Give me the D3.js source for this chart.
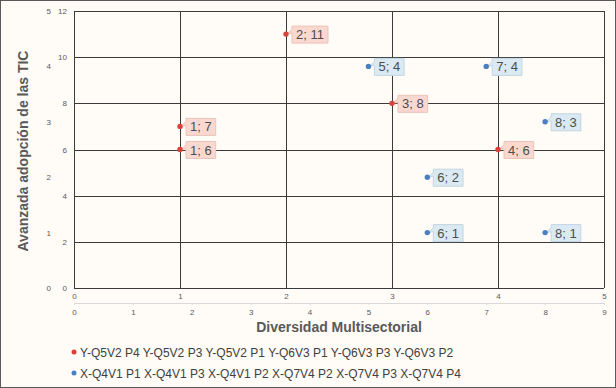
<!DOCTYPE html>
<html>
<head>
<meta charset="utf-8">
<script src="https://cdn.jsdelivr.net/npm/d3@7"></script>
<style>
  body { margin: 0; background: #fffbf7; }
  svg { display: block; font-family: 'Liberation Sans', Arial, sans-serif; }
</style>
</head>
<body>
<svg id="chart" width="616" height="388"></svg>
<script>
// series on primary axes (x 0-5, y 0-12)
const redX = [1, 1, 2, 3, 4]
const redY = [7, 6, 11, 8, 6]
// series on secondary axes (x 0-9, y 0-5)
const blueX = [5, 7, 8, 6, 6, 8]
const blueY = [4, 4, 3, 2, 1, 1]

const redName = 'Y-Q5V2 P4 Y-Q5V2 P3 Y-Q5V2 P1 Y-Q6V3 P1 Y-Q6V3 P3 Y-Q6V3 P2'
const blueName = 'X-Q4V1 P1 X-Q4V1 P3 X-Q4V1 P2 X-Q7V4 P2 X-Q7V4 P3 X-Q7V4 P4'
const xTitle = 'Diversidad Multisectorial'
const yTitle = 'Avanzada adopción de las TIC'

const svg = d3.select('#chart')
const W = 616, H = 388
const plot = { left: 74, right: 604, top: 11, bottom: 288 }

svg.append('rect')
    .attr('x', 0.5).attr('y', 0.5)
    .attr('width', W - 1).attr('height', H - 1)
    .attr('fill', '#fffbf7')
    .attr('stroke', '#595959')

const x1 = d3.scaleLinear().domain([0, 5]).range([plot.left, plot.right])
const y1 = d3.scaleLinear().domain([0, 12]).range([plot.bottom, plot.top])
const x2 = d3.scaleLinear().domain([0, 9]).range([plot.left, plot.right])
const y2 = d3.scaleLinear().domain([0, 5]).range([plot.bottom, plot.top])

// gridlines
const grid = svg.append('g').attr('stroke', '#3a3a3a').attr('stroke-width', 1)
grid.selectAll('.gv').data(d3.range(0, 6)).join('line')
    .attr('x1', d => Math.round(x1(d)) + 0.5).attr('x2', d => Math.round(x1(d)) + 0.5)
    .attr('y1', plot.top).attr('y2', plot.bottom)
grid.selectAll('.gh').data(d3.range(0, 13, 2)).join('line')
    .attr('y1', d => Math.round(y1(d)) + 0.5).attr('y2', d => Math.round(y1(d)) + 0.5)
    .attr('x1', plot.left).attr('x2', plot.right)

function styleAxis (g, size) {
    g.select('.domain').remove()
    g.selectAll('text').attr('fill', '#595959').attr('font-size', size)
        .attr('font-family', 'Liberation Sans, Arial, sans-serif')
}

// primary left
svg.append('g').attr('transform', `translate(${plot.left},0)`)
    .call(d3.axisLeft(y1).tickValues(d3.range(0, 13, 2)).tickSize(0).tickPadding(7))
    .call(g => styleAxis(g, 8))
// secondary left
svg.append('g').attr('transform', `translate(${plot.left},0)`)
    .call(d3.axisLeft(y2).ticks(5).tickSize(0).tickPadding(23))
    .call(g => styleAxis(g, 8))
// primary bottom
svg.append('g').attr('transform', `translate(0,${plot.bottom})`)
    .call(d3.axisBottom(x1).ticks(5).tickSize(0).tickPadding(5))
    .call(g => styleAxis(g, 8))
// secondary bottom
const ax2 = svg.append('g').attr('transform', 'translate(0,303)')
    .call(d3.axisBottom(x2).ticks(9).tickSize(2).tickPadding(4))
ax2.select('.domain').attr('stroke', '#d9d9d9')
ax2.selectAll('.tick line').attr('stroke', '#d9d9d9')
ax2.selectAll('text').attr('fill', '#595959').attr('font-size', 8)

// axis titles
svg.append('text')
    .attr('x', 339).attr('y', 332)
    .attr('text-anchor', 'middle')
    .attr('font-size', 14).attr('font-weight', 'bold').attr('fill', '#595959')
    .text(xTitle)
svg.append('text')
    .attr('transform', 'translate(28,151) rotate(-90)')
    .attr('text-anchor', 'middle')
    .attr('font-size', 14).attr('font-weight', 'bold').attr('fill', '#595959')
    .text(yTitle)

// points with callout labels
function drawSeries (xs, ys, sx, sy, color, fill, stroke) {
    const data = xs.map((v, i) => ({ x: v, y: ys[i] }))
    const g = svg.append('g')
    const item = g.selectAll('g').data(data).join('g')
        .attr('transform', d => `translate(${sx(d.x)},${sy(d.y)})`)
    item.append('text')
        .attr('x', 10).attr('y', 5)
        .attr('font-size', 13).attr('fill', '#4d4d4d')
        .text(d => `${d.x}; ${d.y}`)
    item.insert('path', 'text')
        .attr('fill', fill).attr('stroke', stroke)
        .attr('d', function () {
            const w = this.parentNode.querySelector('text').getComputedTextLength() + 8
            const l = 6, t = -8, b = 9
            return `M${l},${t} H${l + w} V${b} H${l} V${t + 7} L1,0 L${l},${t + 3} Z`
        })
    item.append('circle').attr('r', 2.7).attr('fill', color)
}
drawSeries(redX, redY, x1, y1, '#d9413a', '#f9d8cf', '#ebc4b9')
drawSeries(blueX, blueY, x2, y2, '#4a7fc1', '#dae9f2', '#c3d5e1')

// legend
const legend = [{ name: redName, color: '#d9413a' }, { name: blueName, color: '#4a7fc1' }]
const lg = svg.append('g').selectAll('g').data(legend).join('g')
    .attr('transform', (d, i) => `translate(74,${352 + i * 21})`)
lg.append('circle').attr('r', 2.5).attr('fill', d => d.color)
lg.append('text').attr('x', 6).attr('y', 4.5)
    .attr('font-size', 12).attr('fill', '#404040')
    .text(d => d.name)
</script>
</body>
</html>
